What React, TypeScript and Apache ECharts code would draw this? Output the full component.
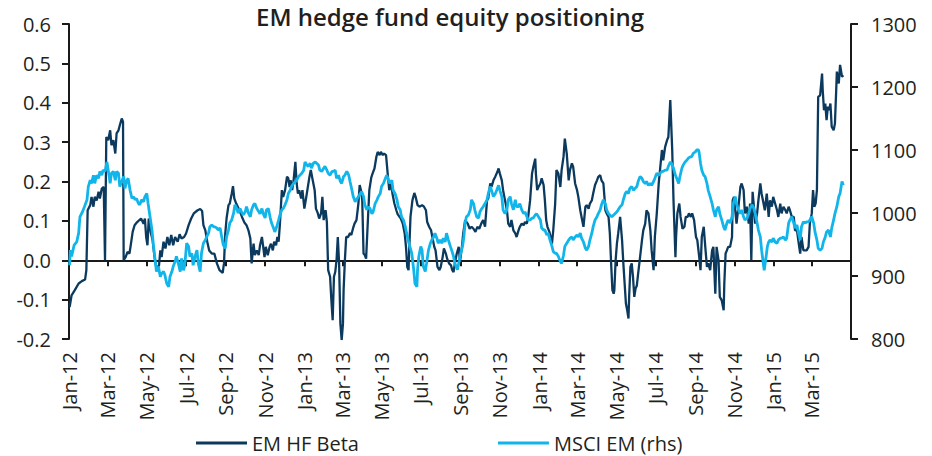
import React, { useEffect, useRef } from 'react';
import * as echarts from 'echarts';

const TITLE = 'EM hedge fund equity positioning';
const SERIES_NAMES = ['EM HF Beta', 'MSCI EM (rhs)'];
const MONTHS = ['Jan', 'Feb', 'Mar', 'Apr', 'May', 'Jun', 'Jul', 'Aug', 'Sep', 'Oct', 'Nov', 'Dec'];

// date axis: from 1 Jan 2012 to 1 May 2015, ticks every two months
const AXIS_START = '2012-01-01';
const AXIS_END = '2015-05-01';
const TICK_DATES = [
  '2012-01-01', '2012-03-01', '2012-05-01', '2012-07-01', '2012-09-01', '2012-11-01',
  '2013-01-01', '2013-03-01', '2013-05-01', '2013-07-01', '2013-09-01', '2013-11-01',
  '2014-01-01', '2014-03-01', '2014-05-01', '2014-07-01', '2014-09-01', '2014-11-01',
  '2015-01-01', '2015-03-01',
];

const LEFT_MIN = -0.2, LEFT_MAX = 0.6, LEFT_STEP = 0.1;
const RIGHT_MIN = 800, RIGHT_MAX = 1300, RIGHT_STEP = 100;

// [days since 1 Jan 2012, value]
const betaData: [number, number][] = [
  [1,-0.119],[4,-0.089],[9,-0.076],[15,-0.059],[20,-0.053],[25,-0.049],[27,-0.025],[29,0.127],[33,0.14],[35,0.161],[38,0.136],[40,0.161],[43,0.152],[46,0.174],[48,0.157],[51,0.182],[54,0.186],[56,0],[58,0.313],[61,0.305],[64,0.33],[66,0.292],[69,0.305],[72,0.271],[74,0.322],[77,0.33],[79,0.343],[82,0.36],[84,0.352],[85,0],[88,0.008],[91,0.021],[94,0.017],[96,0.038],[99,0.072],[102,0.089],[106,0.097],[112,0.106],[116,0.093],[118,0.106],[120,0.059],[122,0.038],[124,0.106],[127,0.072],[130,0.051],[133,0.008],[136,-0.021],[140,-0.013],[142,0.025],[144,0.008],[147,0.047],[150,0.03],[153,0.059],[156,0.038],[159,0.064],[162,0.038],[165,0.059],[169,0.047],[172,0.066],[175,0.055],[179,0.059],[182,0.068],[186,0.089],[190,0.106],[194,0.119],[200,0.127],[204,0.13],[207,0.125],[209,0.089],[212,0.076],[215,0.047],[218,0.025],[222,0.017],[226,0.017],[230,-0.008],[234,-0.025],[239,-0.032],[241,-0.008],[243,0.068],[245,0.106],[248,0.14],[250,0.144],[253,0.169],[255,0.188],[257,0.157],[260,0.144],[264,0.131],[269,0.11],[273,0.095],[276,0.089],[279,0.076],[282,0.055],[284,-0.008],[287,0.042],[289,0.013],[292,0.025],
  [295,0.013],[297,0.038],[300,0.059],[302,0.034],[304,0.008],[306,0.034],[309,0.013],[312,0.034],[314,0.042],[317,0.025],[319,0.047],[322,0.038],[324,0.059],[326,0.047],[328,0.093],[331,0.178],[333,0.161],[336,0.178],[339,0.212],[341,0.208],[343,0.186],[345,0.203],[347,0.178],[349,0.199],[352,0.25],[354,0.195],[356,0.169],[358,0.178],[361,0.157],[363,0.178],[366,0.131],[369,0.161],[371,0.182],[374,0.213],[376,0.229],[379,0.203],[382,0.178],[384,0.131],[387,0.119],[389,0.106],[392,0.119],[394,0.161],[396,0.102],[399,0.127],[401,0.097],[403,-0.025],[406,-0.042],[408,-0.102],[410,-0.152],[412,-0.042],[414,-0.03],[416,0],[418,0.059],[420,-0.008],[422,-0.161],[424,-0.203],[426,-0.161],[427,-0.076],[429,0],[431,0.059],[434,0.059],[437,0.069],[439,0.064],[442,0.083],[444,0.093],[447,0.102],[450,0.144],[452,0.191],[454,0.178],[456,0.152],[458,0.017],[460,0.013],[462,0.004],[465,0.11],[467,0.178],[470,0.21],[472,0.22],[475,0.233],[478,0.263],[480,0.275],[483,0.267],[485,0.275],[488,0.267],[490,0.271],[493,0.267],[496,0.212],[498,0.178],[501,0.195],[503,0.169],[506,0.144],[509,0.127],[511,0.117],[514,0.11],[516,0.106],[519,0.093],[522,0.068],[524,0.034],[526,-0.017],[528,-0.025],[529,0.025],[531,0.11],[534,0.152],[537,0.171],[539,0.161],[542,0.14],[545,0.136],[549,0.14],[552,0.136],[555,0.127],[557,0.097],[560,0.085],[563,0.076],[565,0.059],[568,0.034],[570,0.025],[573,-0.017],[576,-0.025],[578,-0.017],[581,0.008],[583,0.03],[586,0.017],[588,0.004],[591,-0.008],[594,-0.013],
  [596,-0.025],[598,-0.03],[600,-0.008],[603,0.017],[606,0.034],[608,-0.004],[611,0.034],[613,0.068],[616,0.102],[620,0.093],[623,0.08],[626,0.085],[629,0.08],[632,0.072],[635,0.085],[638,0.08],[641,0.093],[644,0.102],[647,0.085],[650,0.152],[652,0.157],[655,0.195],[657,0.186],[660,0.203],[663,0.213],[666,0.224],[668,0.233],[670,0.22],[673,0.203],[675,0.178],[678,0.152],[681,0.127],[683,0.093],[686,0.085],[688,0.102],[691,0.076],[694,0.068],[696,0.059],[699,0.076],[701,0.085],[704,0.093],[707,0.089],[709,0.097],[712,0.093],[714,0.11],[717,0.152],[720,0.22],[722,0.237],[725,0.258],[726,0.22],[728,0.178],[730,0.186],[733,0.195],[735,0.208],[738,0.191],[740,0.152],[742,0.102],[744,0.085],[747,0.072],[749,0.059],[751,0.042],[753,0.076],[756,0.144],[758,0.229],[761,0.22],[764,0.186],[766,0.229],[769,0.263],[771,0.309],[774,0.271],[777,0.203],[779,0.229],[782,0.246],[784,0.237],[787,0.195],[790,0.178],[792,0.161],[795,0.127],[797,0.11],[800,0.085],[803,0.136],[805,0.14],[808,0.131],[810,0.144],[813,0.152],[815,0.169],[818,0.191],[821,0.203],[823,0.212],[826,0.216],[828,0.203],[831,0.195],[833,0.152],[834,0.127],[836,0.119],[839,0.11],[841,0.068],[843,-0.008],[845,-0.076],[847,-0.085],[848,-0.076],[850,0],[852,0.042],[854,0.068],[857,0.11],[860,0.051],[862,-0.008],[864,-0.059],[866,-0.11],[868,-0.127],[870,-0.148],[871,-0.093],[873,-0.017],[875,-0.008],[877,-0.042],[879,-0.093],[881,-0.072],[883,-0.064],[885,-0.034],[888,0.008],[891,0.051],[893,0.076],[896,0.093],[898,0.127],[901,0.119],
  [904,0.076],[906,0.025],[909,-0.025],[911,0.059],[914,0.119],[917,0.195],[919,0.229],[922,0.28],[924,0.254],[927,0.288],[930,0.305],[932,0.313],[935,0.407],[936,0.364],[938,0.28],[940,0.152],[943,0.008],[944,0.059],[946,0.119],[949,0.144],[951,0.11],[954,0.08],[957,0.085],[959,0.11],[962,0.11],[964,0.119],[967,0.11],[969,0.119],[972,0.102],[975,0.059],[977,0.051],[980,0.008],[982,-0.025],[984,0.059],[987,0.085],[989,0.042],[992,-0.017],[994,-0.008],[997,-0.025],[1000,0.025],[1002,0.034],[1005,-0.085],[1007,0.034],[1010,0],[1012,-0.093],[1015,-0.102],[1018,-0.127],[1019,-0.059],[1021,0.017],[1023,0.025],[1025,0.034],[1028,0.034],[1031,0.059],[1032,0.152],[1034,0.161],[1036,0.127],[1038,0.093],[1041,0.136],[1044,0.186],[1046,0.195],[1049,0.178],[1051,0.119],[1054,0.136],[1057,0.093],[1059,0.144],[1061,0],[1063,0.174],[1065,0.136],[1067,0.093],[1070,0.119],[1072,0.152],[1075,0.195],[1077,0.169],[1080,0.144],[1082,0.127],[1085,0.169],[1088,0.11],[1090,0.152],[1093,0.136],[1095,0.161],[1098,0.144],[1101,0.127],[1103,0.11],[1106,0.144],[1108,0.119],[1111,0.136],[1114,0.127],[1116,0.119],[1119,0.136],[1121,0.127],[1124,0.11],[1127,0.11],[1129,0.076],[1132,0.076],[1134,0.051],[1137,0.017],[1139,0.059],[1142,0.025],[1145,0.025],[1147,0.025],[1150,0.034],[1152,0.093],[1155,0.119],[1157,0.178],[1159,0.136],[1161,0.144],[1163,0.178],[1165,0.415],[1168,0.419],[1171,0.474],[1172,0.432],[1174,0.381],[1176,0.398],[1178,0.356],[1180,0.39],[1182,0.381],[1184,0.398],[1186,0.339],[1189,0.33],[1191,0.347],[1193,0.432],[1194,0.479],[1197,0.449],[1199,0.496],[1202,0.466],[1204,0.47],
];

const msciData: [number, number][] = [
  [1,917],[2,941],[4,931],[8,949],[12,954],[15,968],[17,994],[21,1002],[24,1010],[28,1021],[30,1042],[33,1052],[35,1047],[38,1060],[40,1047],[43,1060],[46,1055],[48,1066],[51,1060],[53,1068],[56,1066],[59,1081],[61,1068],[64,1047],[66,1063],[69,1066],[72,1052],[74,1066],[77,1063],[79,1042],[82,1050],[85,1058],[87,1039],[90,1052],[92,1055],[95,1036],[98,1023],[100,1026],[103,1021],[105,1023],[108,1015],[110,1013],[113,1021],[116,1018],[118,1026],[121,1031],[123,1015],[126,994],[129,973],[131,952],[134,925],[136,907],[139,915],[142,899],[144,904],[147,907],[149,902],[152,888],[155,883],[157,899],[160,907],[162,915],[165,923],[167,931],[170,920],[173,907],[175,928],[178,909],[180,917],[183,952],[186,947],[188,931],[191,936],[193,917],[196,931],[199,941],[201,920],[204,907],[206,936],[209,952],[212,957],[214,962],[217,968],[219,978],[222,981],[225,978],[227,978],[230,976],[232,973],[235,976],[237,965],[240,949],[243,944],[245,962],[248,973],[250,984],[253,989],[256,1000],[258,1013],[261,1007],[263,1000],[266,1007],[269,1000],[271,997],[274,1002],[276,1010],[279,1000],[282,994],[284,1005],[287,1013],[289,1015],[292,1007],
  [297,999],[300,1007],[302,999],[305,992],[307,1005],[310,1007],[313,992],[315,984],[318,976],[320,970],[323,978],[326,989],[328,997],[331,1005],[333,1007],[336,1013],[339,1021],[341,1031],[344,1036],[346,1042],[349,1047],[352,1050],[354,1052],[357,1058],[359,1060],[362,1063],[365,1068],[367,1081],[370,1076],[372,1074],[375,1079],[377,1071],[380,1079],[383,1081],[385,1079],[388,1076],[390,1068],[393,1066],[396,1071],[398,1074],[401,1068],[403,1063],[406,1060],[409,1066],[411,1066],[414,1068],[416,1055],[419,1060],[422,1050],[424,1047],[427,1058],[429,1060],[432,1066],[435,1060],[437,1050],[440,1036],[442,1026],[445,1018],[447,1021],[450,1026],[453,1031],[455,1034],[458,1026],[460,1013],[463,1005],[466,1010],[468,1007],[471,999],[473,1002],[476,1015],[479,1021],[481,1026],[484,1031],[486,1042],[489,1047],[492,1055],[494,1060],[497,1052],[499,1047],[502,1052],[504,1036],[507,1031],[510,1021],[512,1010],[515,1005],[517,994],[520,989],[523,978],[525,968],[528,954],[530,947],[533,936],[536,910],[538,888],[541,883],[542,910],[544,931],[547,947],[549,941],[551,915],[554,907],[556,920],[559,941],[562,952],[564,957],[567,962],[569,968],[572,960],[574,952],[577,957],[580,952],[582,960],[585,954],[587,968],[590,957],[593,947],[595,941],[598,931],
  [600,920],[604,910],[607,925],[609,936],[612,947],[614,962],[616,984],[618,994],[621,997],[624,1005],[626,1021],[629,1015],[631,1005],[634,994],[637,992],[639,1002],[642,1007],[644,1010],[647,1015],[650,1021],[652,1031],[655,1042],[657,1036],[660,1026],[663,1031],[665,1036],[668,1044],[670,1036],[673,1026],[675,1005],[678,999],[681,1005],[683,1021],[686,1026],[688,1015],[691,1005],[694,1021],[696,1010],[699,1010],[701,1015],[704,1005],[707,999],[709,1002],[712,994],[714,989],[717,989],[720,992],[722,992],[725,997],[727,999],[730,994],[733,989],[735,976],[738,973],[740,973],[743,965],[745,968],[748,957],[751,947],[753,939],[756,936],[758,936],[761,931],[764,923],[766,920],[769,933],[771,947],[774,952],[777,957],[779,960],[782,962],[784,957],[787,962],[790,965],[792,962],[795,968],[797,960],[800,954],[803,944],[805,941],[808,947],[810,957],[813,968],[815,978],[818,989],[821,994],[823,999],[826,1005],[828,1013],[831,1021],[834,1015],[836,1005],[839,999],[841,997],[844,994],[847,997],[849,999],[852,1002],[854,1005],[857,1010],[860,1013],[862,1021],[865,1031],[867,1034],[870,1031],[872,1039],[875,1042],[878,1036],[880,1039],[883,1042],[885,1050],[888,1058],[891,1055],[893,1050],[896,1047],[898,1050],
  [901,1044],[904,1047],[906,1044],[909,1050],[911,1055],[914,1063],[917,1060],[919,1063],[922,1066],[924,1066],[927,1068],[930,1068],[932,1074],[935,1081],[937,1079],[940,1071],[943,1060],[945,1055],[948,1047],[950,1058],[953,1071],[955,1076],[958,1081],[961,1084],[963,1087],[966,1089],[968,1089],[971,1095],[974,1097],[976,1100],[979,1100],[980,1095],[982,1079],[984,1068],[987,1060],[989,1058],[992,1047],[994,1036],[997,1026],[1000,1015],[1002,1005],[1005,994],[1007,1005],[1010,1010],[1012,999],[1015,989],[1018,978],[1020,973],[1023,984],[1025,989],[1028,984],[1031,994],[1033,1015],[1036,1026],[1038,1015],[1041,1005],[1044,999],[1046,1005],[1049,994],[1051,989],[1054,991],[1057,999],[1059,1007],[1062,1013],[1064,1010],[1067,999],[1070,984],[1072,973],[1075,962],[1077,941],[1080,917],[1081,909],[1084,931],[1086,947],[1088,954],[1090,957],[1093,954],[1095,960],[1098,954],[1101,952],[1103,957],[1106,960],[1108,960],[1111,962],[1114,957],[1116,960],[1119,984],[1121,989],[1124,994],[1127,984],[1129,976],[1132,981],[1134,970],[1137,957],[1139,978],[1142,986],[1145,984],[1147,986],[1150,986],[1152,989],[1155,994],[1158,984],[1160,970],[1163,957],[1165,944],[1168,941],[1171,944],[1173,954],[1176,962],[1178,970],[1181,973],[1184,962],[1186,976],[1189,989],[1191,999],[1194,1010],[1197,1026],[1199,1031],[1202,1050],[1204,1044],
];

const DAY_MS = 86400000;
const FONT = "'Open Sans', 'Noto Sans', sans-serif";
const TEXT = '#231f20';
const DARK = '#0b3a5e';
const LIGHT = '#12b5ea';

export default function App() {
  const ref = useRef<HTMLDivElement>(null);

  useEffect(() => {
    if (!ref.current) return;
    const chart = echarts.init(ref.current, null, { renderer: 'svg' });
    const start = Date.parse(AXIS_START);
    const end = Date.parse(AXIS_END);
    const ticks = TICK_DATES.map((d) => Date.parse(d));
    const toPoint = (p: [number, number]) => [start + p[0] * DAY_MS, p[1]];
    const fmt = (v: number) => {
      const d = new Date(v);
      return MONTHS[d.getUTCMonth()] + '-' + String(d.getUTCFullYear()).slice(2);
    };

    chart.setOption({
      animation: false,
      backgroundColor: '#ffffff',
      textStyle: { fontFamily: FONT, color: TEXT },
      title: {
        text: TITLE,
        left: 256,
        top: 4,
        padding: 0,
        textStyle: { fontFamily: FONT, fontSize: 24, fontWeight: 600, color: TEXT },
      },
      legend: {
        data: SERIES_NAMES,
        left: 196,
        top: 433,
        icon: 'rect',
        itemWidth: 51,
        itemHeight: 3,
        itemGap: 139,
        padding: 0,
        textStyle: { fontFamily: FONT, fontSize: 20, color: TEXT },
      },
      grid: { left: 69, right: 81, top: 24, bottom: 117, containLabel: false, outerBoundsMode: 'none' },
      xAxis: [
        {
          type: 'value',
          position: 'bottom',
          min: start,
          max: end,
          axisLine: { show: false, onZero: false },
          axisTick: { show: false },
          splitLine: { show: false },
          axisLabel: {
            customValues: ticks,
            rotate: 90,
            margin: 13,
            fontSize: 20,
            fontFamily: FONT,
            color: TEXT,
            formatter: fmt,
          },
        },
        {
          type: 'value',
          position: 'bottom',
          min: start,
          max: end,
          axisLine: { show: true, onZero: true, onZeroAxisIndex: 0, lineStyle: { color: '#1a1a1a', width: 2 } },
          axisTick: { show: true, customValues: ticks, length: 6, lineStyle: { color: '#1a1a1a', width: 2 } },
          axisLabel: { show: false },
          splitLine: { show: false },
        },
      ],
      yAxis: [
        {
          type: 'value',
          position: 'left',
          min: LEFT_MIN,
          max: LEFT_MAX,
          interval: LEFT_STEP,
          axisLine: { show: true, onZero: false, lineStyle: { color: '#1a1a1a', width: 2 } },
          axisTick: { show: true, length: 7, lineStyle: { color: '#1a1a1a', width: 2 } },
          splitLine: { show: false },
          axisLabel: {
            margin: 18,
            fontSize: 20,
            fontFamily: FONT,
            color: TEXT,
            formatter: (v: number) => v.toFixed(1),
          },
        },
        {
          type: 'value',
          position: 'right',
          min: RIGHT_MIN,
          max: RIGHT_MAX,
          interval: RIGHT_STEP,
          axisLine: { show: true, onZero: false, lineStyle: { color: '#1a1a1a', width: 2 } },
          axisTick: { show: true, length: 7, lineStyle: { color: '#1a1a1a', width: 2 } },
          splitLine: { show: false },
          axisLabel: {
            margin: 20,
            fontSize: 20,
            fontFamily: FONT,
            color: TEXT,
            formatter: (v: number) => String(Math.round(v)),
          },
        },
      ],
      series: [
        {
          name: SERIES_NAMES[0],
          type: 'line',
          xAxisIndex: 0,
          yAxisIndex: 0,
          data: betaData.map(toPoint),
          showSymbol: false,
          symbol: 'none',
          lineStyle: { color: DARK, width: 2.3 },
          itemStyle: { color: DARK },
        },
        {
          name: SERIES_NAMES[1],
          type: 'line',
          xAxisIndex: 0,
          yAxisIndex: 1,
          data: msciData.map(toPoint),
          showSymbol: false,
          symbol: 'none',
          lineStyle: { color: LIGHT, width: 2.8 },
          itemStyle: { color: LIGHT },
        },
      ],
    });
    return () => chart.dispose();
  }, []);

  return (
    <div
      ref={ref}
      style={{ position: 'absolute', left: 0, top: 0, width: 932, height: 456, background: '#fff' }}
    />
  );
}
